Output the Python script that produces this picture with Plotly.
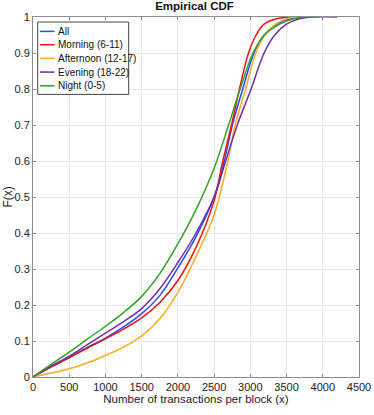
import plotly.graph_objects as go

# CDF curves (x = transactions per block, F = cumulative share)
all_x = [0, 250, 500, 750, 1000, 1250, 1500, 1750, 2000, 2250, 2500, 2640, 2752, 2895, 3050, 3190, 3370, 3550, 3800]
all_f = [0, .028, .054, .082, .108, .139, .176, .226, .303, .39, .50, .60, .70, .80, .90, .95, .98, .995, 1.0]

morning_x = [0, 250, 500, 750, 1000, 1250, 1500, 1750, 2000, 2250, 2500, 2620, 2740, 2850, 2975, 3080, 3190, 3360, 3560]
morning_f = [0, .028, .054, .080, .106, .133, .164, .207, .268, .36, .49, .60, .70, .80, .90, .95, .98, .995, 1.0]

afternoon_x = [0, 250, 500, 750, 1000, 1250, 1500, 1750, 2000, 2250, 2500, 2690, 2790, 2935, 3075, 3200, 3350, 3500, 3650]
afternoon_f = [0, .011, .023, .039, .06, .083, .114, .162, .235, .335, .45, .60, .70, .80, .90, .95, .98, .995, 1.0]

evening_x = [0, 250, 500, 750, 1000, 1250, 1500, 1750, 2000, 2250, 2500, 2660, 2820, 3010, 3190, 3337, 3500, 3680, 3900, 4200]
evening_f = [0, .03, .058, .09, .122, .154, .19, .245, .318, .40, .50, .60, .70, .80, .90, .95, .98, .995, 1.0, 1.0]

night_x = [0, 250, 500, 750, 1000, 1250, 1500, 1750, 2000, 2250, 2500, 2700, 2860, 3037, 3198, 3405, 3600, 3800, 3950]
night_f = [0, .035, .069, .105, .141, .179, .224, .287, .37, .465, .58, .70, .80, .90, .95, .98, .995, 1.0, 1.0]

series = [
    ('All', all_x, all_f, '#1f4fff'),
    ('Morning (6-11)', morning_x, morning_f, '#ee1111'),
    ('Afternoon (12-17)', afternoon_x, afternoon_f, '#ffaa22'),
    ('Evening (18-22)', evening_x, evening_f, '#7030a0'),
    ('Night (0-5)', night_x, night_f, '#33a02c'),
]

x_ticks = [0, 500, 1000, 1500, 2000, 2500, 3000, 3500, 4000, 4500]
y_ticks = [0, 0.1, 0.2, 0.3, 0.4, 0.5, 0.6, 0.7, 0.8, 0.9, 1]
y_labels = ['0', '0.1', '0.2', '0.3', '0.4', '0.5', '0.6', '0.7', '0.8', '0.9', '1']

fig = go.Figure()
for name, xs, fs, color in series:
    fig.add_trace(go.Scatter(
        x=xs, y=fs, name=name, mode='lines',
        line=dict(color=color, width=1.5, shape='spline', smoothing=1.0)
    ))

axis_style = dict(
    showgrid=True, gridcolor='#e8e8e8', gridwidth=1,
    showline=True, linecolor='#8c8c8c', linewidth=1, mirror='ticks',
    ticks='inside', ticklen=3, tickcolor='#8c8c8c',
    zeroline=False, automargin=False,
    tickfont=dict(size=11, color='#222'),
)

fig.update_xaxes(
    range=[0, 4500], tickvals=x_ticks,
    title=dict(text='Number of transactions per block (x)', font=dict(size=11.5, color='#222'), standoff=2),
    **axis_style)
fig.update_yaxes(range=[0, 1], tickvals=y_ticks, ticktext=y_labels, **axis_style)

# y axis title placed by hand so the plot area keeps the reference's left edge
fig.add_annotation(text='F(x)', textangle=-90, xref='paper', yref='paper',
                   x=-0.078, y=0.5, xanchor='center', yanchor='middle', showarrow=False,
                   font=dict(size=12, color='#222'))

# compact MATLAB-style legend box in the top-left corner
fig.add_shape(type='rect', xref='paper', yref='paper',
              x0=0.0144, x1=0.2935, y0=0.785, y1=0.986,
              line=dict(color='#444', width=1), fillcolor='white', layer='above')
row_y = [0.960, 0.923, 0.885, 0.847, 0.809]
for (name, _, _, color), ry in zip(series, row_y):
    fig.add_shape(type='line', xref='paper', yref='paper',
                  x0=0.021, x1=0.066, y0=ry, y1=ry,
                  line=dict(color=color, width=1.5), layer='above')
    fig.add_annotation(text=name, xref='paper', yref='paper', x=0.072, y=ry,
                       xanchor='left', yanchor='middle', showarrow=False,
                       font=dict(size=10, color='#111',
                                 family='Liberation Sans Narrow, Liberation Sans, Arial, sans-serif'))

fig.update_layout(
    width=374, height=415,
    margin=dict(l=33, r=15, t=17, b=38),
    paper_bgcolor='white', plot_bgcolor='white',
    font=dict(family='Liberation Sans, Arial, sans-serif', color='#222'),
    title=dict(text='<b>Empirical CDF</b>', x=0.52, xanchor='center', y=0.995, yanchor='top',
               font=dict(size=11.5, color='#111')),
    showlegend=False,
)

fig.write_html('out.html', config={'displayModeBar': False},
               post_script="document.body.style.margin='0';")
